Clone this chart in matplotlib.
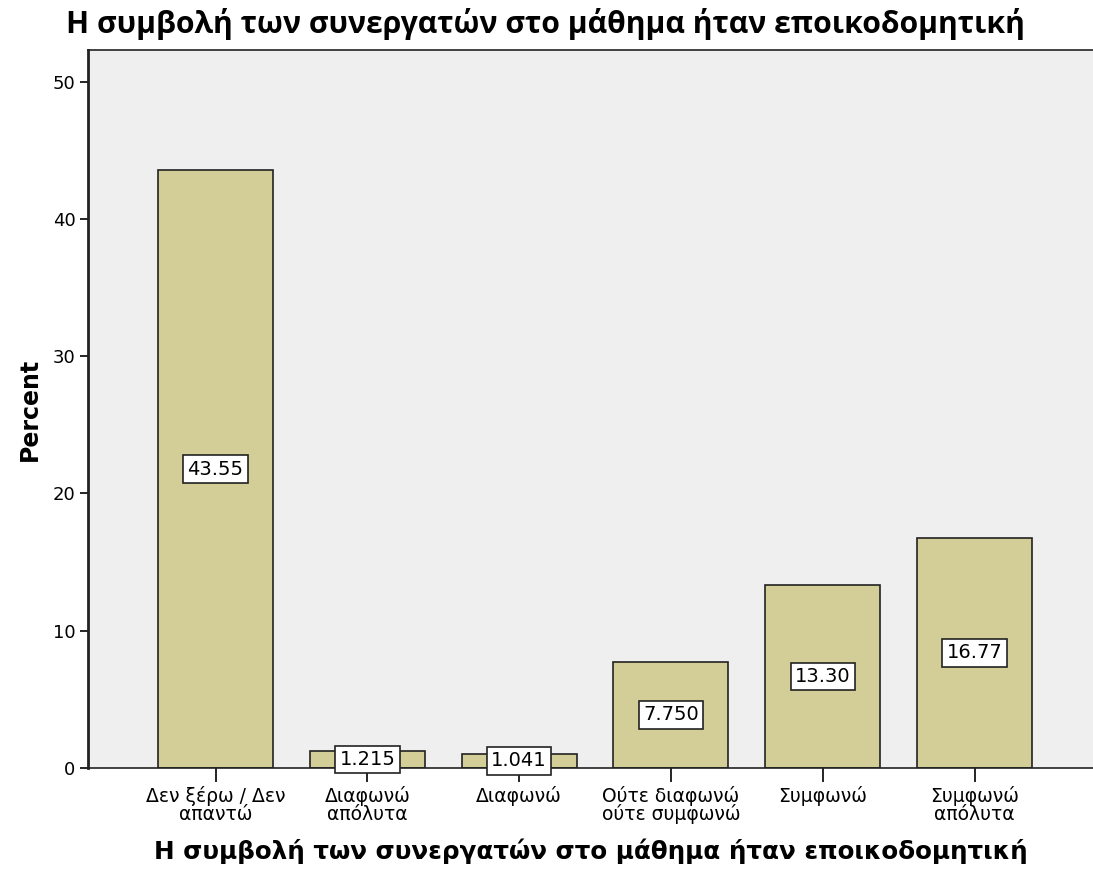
import matplotlib.pyplot as plt
from matplotlib import font_manager
import numpy as np

categories = ["Δεν ξέρω / Δεν\nαπαντώ", "Διαφωνώ\nαπόλυτα", "Διαφωνώ",
              "Ούτε διαφωνώ\nούτε συμφωνώ", "Συμφωνώ", "Συμφωνώ\nαπόλυτα"]
percent = [43.55, 1.215, 1.041, 7.750, 13.30, 16.77]
value_labels = ["43.55", "1.215", "1.041", "7.750", "13.30", "16.77"]
title = "Η συμβολή των συνεργατών στο μάθημα ήταν εποικοδομητική"

names = {f.name for f in font_manager.fontManager.ttflist}
title_font = "Liberation Sans Narrow" if "Liberation Sans Narrow" in names else "Open Sans"

fig = plt.figure(figsize=(10.93, 8.72), dpi=100)
ax = fig.add_axes([0.0805, 0.1193, 0.9195, 0.8234])
ax.set_facecolor("#efefef")

x = np.arange(len(categories))
ax.bar(x, percent, width=0.757, color="#d3ce98", edgecolor="#222222", linewidth=1.2, zorder=2)

for xi, v, lab in zip(x, percent, value_labels):
    ax.text(xi, v / 2, lab, ha="center", va="center", fontsize=14, family="DejaVu Sans",
            bbox=dict(boxstyle="square,pad=0.22", fc="white", ec="#222222", lw=1.2), zorder=3)

ax.set_xlim(-0.84, 5.78)
ax.set_ylim(0, 52.3)
ax.set_yticks([0, 10, 20, 30, 40, 50])
ax.set_xticks(x)
ax.set_xticklabels(categories, fontsize=13.5, linespacing=0.9)
ax.tick_params(axis="x", length=10, width=1.2, pad=3)
ax.tick_params(axis="y", length=6, width=1.2, labelsize=13, pad=3)

for s in ["left", "bottom", "top"]:
    ax.spines[s].set_color("#222222")
ax.spines["left"].set_linewidth(2)
ax.spines["bottom"].set_linewidth(1.2)
ax.spines["top"].set_linewidth(1.2)
ax.spines["right"].set_visible(False)

ax.set_ylabel("Percent", fontsize=17, fontweight="bold", labelpad=8)
ax.set_xlabel(title, fontsize=17.7, fontweight="bold", labelpad=10)
fig.text(0.06, 0.973, title, fontsize=21.7, fontweight="bold", family=title_font,
         ha="left", va="center")

fig.savefig("out.png", dpi=100)
